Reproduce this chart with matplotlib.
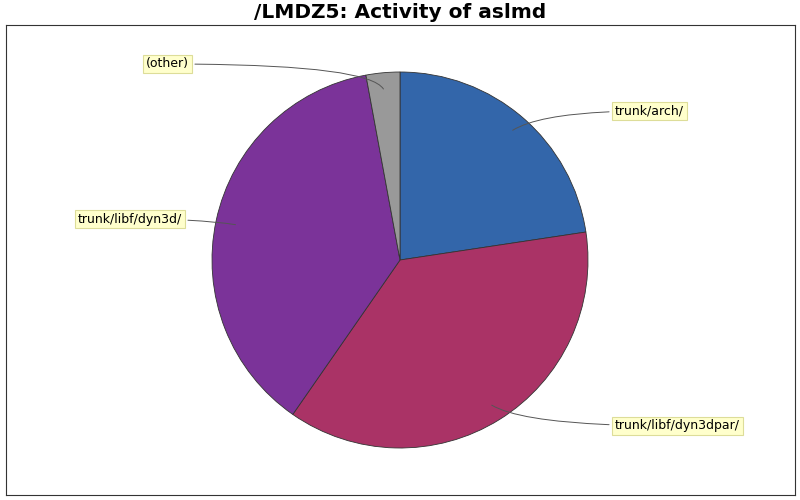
import matplotlib
matplotlib.use("Agg")
import matplotlib.pyplot as plt
import numpy as np

# slices, clockwise from 12 o'clock
labels = ["trunk/arch/", "trunk/libf/dyn3dpar/", "trunk/libf/dyn3d/", "(other)"]
shares = [22.6, 37.0, 37.4, 2.9]
colors = ["#3366aa", "#aa3366", "#7b3399", "#999999"]

# label placement (pixel coords, y up) and connector angle at the anchor end
label_pos = [(615, 389), (615, 74), (182, 281), (189, 436)]
label_ha = ["left", "left", "right", "right"]
anchor_frac = [0.9, 0.9, 0.88, 0.9]
anchor_ang = [35, -35, -10, -75]

W, H = 800, 500
fig = plt.figure(figsize=(8, 5), dpi=100)
ax = fig.add_axes([6 / W, 5 / H, 789 / W, 470 / H])
cx, cy, r = 400, 240, 188

wedges, _ = ax.pie(shares, colors=colors, startangle=90, counterclock=False,
                   center=(cx, cy), radius=r, frame=True,
                   wedgeprops=dict(edgecolor="#333333", linewidth=0.6))
ax.set_xlim(6, 795)
ax.set_ylim(5, 475)
ax.set_aspect("auto")
ax.set_xticks([])
ax.set_yticks([])
for s in ax.spines.values():
    s.set_color("#333333")
    s.set_linewidth(0.8)

for w, lab, pos, ha, f, a in zip(wedges, labels, label_pos, label_ha, anchor_frac, anchor_ang):
    mid = np.deg2rad((w.theta1 + w.theta2) / 2)
    ax_pt = (cx + f * r * np.cos(mid), cy + f * r * np.sin(mid))
    ax.annotate(lab, xy=ax_pt, xytext=pos, ha=ha, va="center", fontsize=9,
                bbox=dict(boxstyle="square,pad=0.22", fc="#ffffcc", ec="#dddd99", lw=0.8),
                arrowprops=dict(arrowstyle="-", color="#555555", lw=0.7,
                                connectionstyle="angle3,angleA=0,angleB=%d" % a))

fig.text(0.5, 1 - 13 / H, "/LMDZ5: Activity of aslmd", ha="center", va="center",
         fontsize=14.5, fontweight="bold")
fig.savefig("out.png", dpi=100)
